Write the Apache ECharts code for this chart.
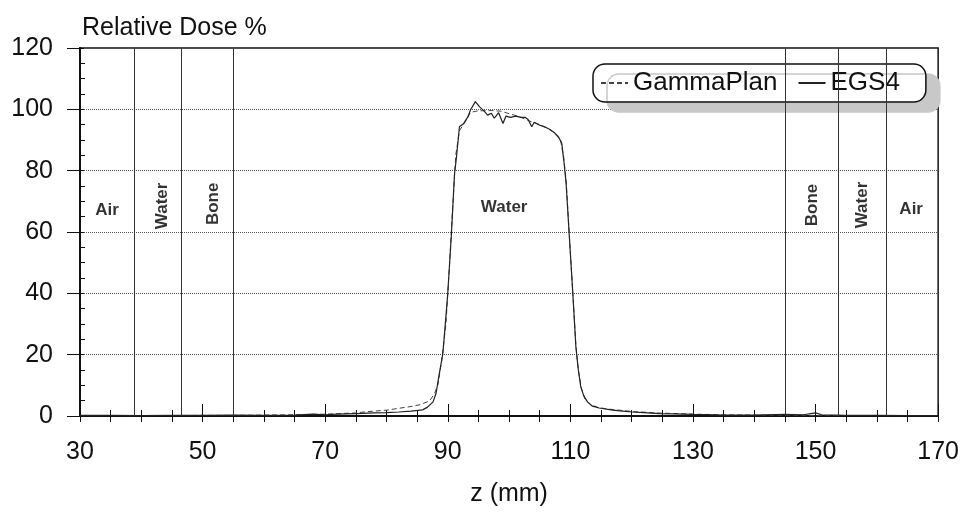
<!DOCTYPE html>
<html lang="en">
<head>
    <meta charset="UTF-8">
    <title>Relative Dose</title>
    <script src="https://cdn.jsdelivr.net/npm/echarts@6/dist/echarts.min.js"></script>
    <style>
        html, body { margin: 0; padding: 0; background: #fff; }
        #main { width: 962px; height: 520px; }
    </style>
</head>
<body>

<div id="main"></div>

<script type="text/javascript">

    // GammaPlan (dashed)
    var gammaZ = [30, 40, 50, 55, 60, 65, 70, 75, 76.7, 80, 82, 84, 85.5, 87, 87.8, 88.4, 89, 89.7, 90.3, 90.8, 91.3, 91.9,
        93, 93.7, 94.9, 97.1, 98.7, 99.8, 101.4, 103.6, 105.2, 106.8, 107.9, 108.4, 108.9, 109.3, 109.8, 110.4, 110.9,
        111.3, 111.8, 112.4, 113.2, 114.5, 116, 118, 120, 124, 130, 135, 140, 150, 160, 170];
    var gammaDose = [0.1, 0.1, 0.2, 0.2, 0.3, 0.4, 0.6, 1.0, 1.4, 1.9, 2.5, 3.1, 3.7, 4.9, 7.1, 10.3, 18, 30, 50, 68, 85, 93,
        96.5, 99, 99.5, 99.6, 99.4, 98.7, 97.8, 96, 94.9, 93.2, 91.6, 90, 84.5, 77, 60, 40, 23,
        15, 9, 5.5, 3.8, 2.8, 2.3, 1.9, 1.5, 1.0, 0.6, 0.4, 0.3, 0.2, 0.1, 0.1];

    // EGS4 (solid)
    var egsZ = [30, 35, 40, 45, 50, 55, 60, 65, 68, 70, 72, 75, 78, 80, 82, 84, 85.9, 86.7, 87.6, 88.1, 88.6, 89.2, 90, 90.6,
        91.1, 91.4, 91.9, 92.6, 93.3, 93.7, 94.5, 95.2, 95.9, 96.5, 97.1, 97.6, 98.3, 99, 99.5, 100.2, 101.1, 101.9,
        102.6, 103.1, 103.7, 104.1, 104.9, 105.8, 106.6, 107.4, 108.2, 108.6, 109, 109.3, 109.8, 110.4, 110.9, 111.3,
        111.7, 112.2, 112.8, 113.6, 114.7, 116.9, 118.5, 120.1, 122, 124.5, 127, 130, 135, 140, 145, 148, 150, 151,
        155, 160, 165, 170];
    var egsDose = [0.2, 0.2, 0.1, 0.2, 0.2, 0.3, 0.2, 0.3, 0.6, 0.4, 0.6, 0.8, 1.0, 1.1, 1.3, 1.6, 2.0, 2.9, 4.6, 7.5, 13.6, 20.4, 40, 59.5,
        79, 84, 94.3, 95.4, 97.6, 99.8, 102.5, 100.8, 99.5, 98.1, 98.7, 97.1, 98.9, 95.4, 97.8, 97.4, 97.8, 97.4,
        97.4, 96.7, 94.3, 95.8, 94.9, 94.3, 93.5, 92.4, 90.5, 88.9, 82, 76, 59.5, 40, 22.5, 15,
        9.5, 6.5, 4.6, 3.2, 2.6, 1.9, 1.6, 1.3, 1.1, 0.8, 0.7, 0.5, 0.3, 0.3, 0.5, 0.4, 1.0, 0.4,
        0.2, 0.2, 0.1, 0.1];

    // tissue boundaries and region labels
    var boundaries = [38.8, 46.5, 55, 145, 153.7, 161.5];
    var zoneNames = ['Air', 'Water', 'Bone', 'Water', 'Bone', 'Water', 'Air'];
    var zoneZ = [34.4, 43.4, 51.7, 99.2, 149.4, 157.6, 165.6];
    var zoneY = [67.2, 68.5, 69.2, 68.1, 68.8, 68.8, 67.3];
    var zoneRotate = [0, 90, 90, 0, 90, 90, 0];

    var xTicks = [30, 50, 70, 90, 110, 130, 150, 170];
    var yTicks = [0, 20, 40, 60, 80, 100, 120];

    function zip(a, b) {
        return a.map(function (v, i) { return [v, b[i]]; });
    }

    var font = 'Liberation Sans, Arial, sans-serif';
    var ink = '#111';

    var myChart = echarts.init(document.getElementById('main'));

    var baseX = {
        type: 'value',
        min: xTicks[0],
        max: xTicks[xTicks.length - 1],
        interval: 20,
        position: 'bottom',
        axisLine: {show: true, lineStyle: {color: ink, width: 2}},
        splitLine: {show: false},
        minorSplitLine: {show: false}
    };
    var baseY = {
        type: 'value',
        min: yTicks[0],
        max: yTicks[yTicks.length - 1],
        interval: 20,
        position: 'left',
        axisLine: {show: true, lineStyle: {color: ink, width: 2}},
        minorSplitLine: {show: false}
    };

    var option = {
        animation: false,
        backgroundColor: '#fff',
        title: {
            text: 'Relative Dose %',
            left: 77,
            top: 11,
            textStyle: {fontFamily: font, fontSize: 25, fontWeight: 'normal', color: ink}
        },
        grid: {
            left: 80,
            right: 23,
            top: 48,
            bottom: 104,
            show: true,
            borderColor: ink,
            borderWidth: 1.5,
            backgroundColor: 'transparent'
        },
        legend: {
            data: ['GammaPlan', 'EGS4'],
            left: 593,
            top: 64,
            padding: [6, 26, 6, 7],
            itemGap: 20,
            itemWidth: 27,
            itemHeight: 14,
            itemStyle: {opacity: 0},
            borderColor: ink,
            borderWidth: 1.5,
            borderRadius: 12,
            backgroundColor: '#fff',
            shadowColor: '#c8c8c8',
            shadowBlur: 0,
            shadowOffsetX: 14,
            shadowOffsetY: 10,
            textStyle: {fontFamily: font, fontSize: 26, color: ink}
        },
        xAxis: [
            Object.assign({}, baseX, {
                name: 'z (mm)',
                nameLocation: 'middle',
                nameGap: 66,
                nameTextStyle: {fontFamily: font, fontSize: 25, color: ink},
                axisTick: {show: true, inside: false, length: 6, lineStyle: {color: ink}},
                minorTick: {show: true, splitNumber: 4, length: 6, lineStyle: {color: ink}},
                axisLabel: {fontFamily: font, fontSize: 25, color: ink, margin: 24}
            }),
            Object.assign({}, baseX, {
                axisTick: {show: true, inside: true, length: 12, lineStyle: {color: ink}},
                minorTick: {show: true, splitNumber: 4, length: 6, lineStyle: {color: ink}},
                axisLabel: {show: false}
            })
        ],
        yAxis: [
            Object.assign({}, baseY, {
                axisTick: {show: true, inside: false, length: 13, lineStyle: {color: ink}},
                minorTick: {show: false},
                axisLabel: {fontFamily: font, fontSize: 25, color: ink, margin: 27},
                splitLine: {show: true, lineStyle: {color: '#555', type: 'dotted', width: 1}}
            }),
            Object.assign({}, baseY, {
                axisTick: {show: true, inside: true, length: 4, lineStyle: {color: ink}},
                minorTick: {show: true, splitNumber: 4, length: 5, lineStyle: {color: ink}},
                axisLabel: {show: false},
                splitLine: {show: false}
            })
        ],
        series: [
            {
                name: 'zones',
                type: 'scatter',
                symbolSize: 0,
                silent: true,
                data: zoneZ.map(function (z, i) {
                    return {
                        value: [z, zoneY[i]],
                        label: {rotate: zoneRotate[i]}
                    };
                }),
                label: {
                    show: true,
                    position: 'inside',
                    formatter: function (p) { return zoneNames[p.dataIndex]; },
                    fontFamily: font,
                    fontSize: 17,
                    fontWeight: 'bold',
                    color: '#000'
                },
                markLine: {
                    silent: true,
                    symbol: ['none', 'none'],
                    label: {show: false},
                    lineStyle: {type: 'solid', color: '#333', width: 1},
                    data: boundaries.map(function (b) { return {xAxis: b}; })
                }
            },
            {
                name: 'GammaPlan',
                type: 'line',
                symbol: 'none',
                data: zip(gammaZ, gammaDose),
                lineStyle: {color: '#444', width: 1, type: [5, 3]},
                itemStyle: {color: '#444'}
            },
            {
                name: 'EGS4',
                type: 'line',
                symbol: 'none',
                data: zip(egsZ, egsDose),
                lineStyle: {color: '#222', width: 1.2, type: 'solid'},
                itemStyle: {color: '#222'}
            }
        ]
    };

    myChart.setOption(option);

</script>

</body>
</html>
